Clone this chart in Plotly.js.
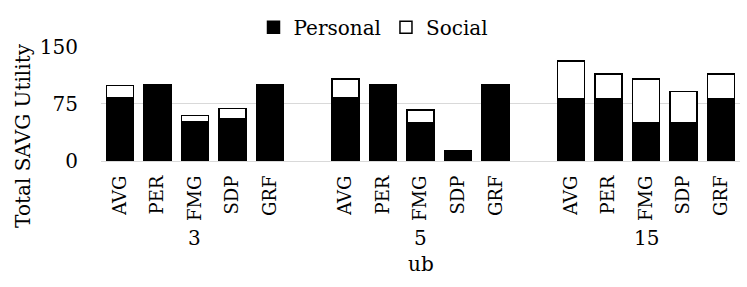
<!DOCTYPE html>
<html>
<head>
<meta charset="utf-8">
<script src="https://cdn.plot.ly/plotly-3.0.1.min.js"></script>
<style>html,body{margin:0;padding:0;background:#fff;}#chart{width:747px;height:287px;}</style>
</head>
<body>
<div id="chart"></div>
<script>
// ---- data ----
const groups = ["3", "5", "15"];
const methods = ["AVG", "PER", "FMG", "SDP", "GRF"];
const personal3 = [83, 100, 51, 55, 100];
const social3 = [16, 0, 9, 14, 0];
const personal5 = [83, 100, 50, 13, 100];
const social5 = [25, 0, 17, 0, 0];
const personal15 = [82, 82, 50, 50, 82];
const social15 = [49, 32, 58, 41, 32];
const yTicks = [0, 75, 150];

const personalByGroup = [personal3, personal5, personal15];
const socialByGroup = [social3, social5, social15];

const FONT = "'DejaVu Serif', serif";

// category keys
const xs = [], pers = [], soc = [], catOrder = [], tickVals = [], tickText = [];
groups.forEach((g, gi) => {
  if (gi > 0) catOrder.push("gap" + gi);
  methods.forEach((m, mi) => {
    const key = g + "|" + m;
    xs.push(key);
    pers.push(personalByGroup[gi][mi]);
    soc.push(socialByGroup[gi][mi]);
    catOrder.push(key);
    tickVals.push(key);
    tickText.push(m);
  });
});

const traces = [
  {type: "bar", name: "Personal", x: xs, y: pers,
   marker: {color: "#000000", line: {color: "#000000", width: 1.5}}},
  {type: "bar", name: "Social", x: xs, y: soc,
   marker: {color: "#ffffff", line: {color: "#000000", width: 1.5}}}
];

const annotations = groups.map(g => ({
  x: g + "|" + methods[2], xref: "x", y: -0.675, yref: "paper",
  text: g, showarrow: false, xanchor: "center", yanchor: "middle",
  font: {family: FONT, size: 20, color: "#000"}
}));
annotations.push({
  x: 0.5, xref: "paper", y: -0.9, yref: "paper", text: "ub", showarrow: false,
  xanchor: "center", yanchor: "middle", font: {family: FONT, size: 20, color: "#000"}
});
annotations.push({
  x: -0.122, xref: "paper", y: 0.22, yref: "paper", text: "Total SAVG Utility",
  textangle: -90, showarrow: false, xanchor: "center", yanchor: "middle",
  font: {family: FONT, size: 20, color: "#000"}
});

const layout = {
  width: 747, height: 287,
  font: {family: FONT, color: "#000"},
  margin: {l: 101, r: 7, t: 43, b: 126, pad: 0},
  paper_bgcolor: "#fff", plot_bgcolor: "#fff",
  barmode: "stack", bargap: 0.28,
  showlegend: true,
  legend: {orientation: "h", x: 0.5, xref: "container", xanchor: "center",
           y: 0.905, yref: "container", yanchor: "middle",
           font: {family: FONT, size: 20, color: "#000"}, traceorder: "normal"},
  xaxis: {type: "category", categoryorder: "array", categoryarray: catOrder,
          tickmode: "array", tickvals: tickVals, ticktext: tickText,
          tickangle: -90, showgrid: false, showline: false, zeroline: false,
          ticks: "", ticklabelstandoff: 10,
          tickfont: {family: FONT, size: 18, color: "#000"},
          range: [-0.5, catOrder.length - 0.5]},
  yaxis: {range: [0, 150], tickmode: "array", tickvals: yTicks,
          showgrid: true, gridcolor: "#d9d9d9", gridwidth: 1,
          zeroline: true, zerolinecolor: "#d9d9d9", zerolinewidth: 1,
          showline: false, ticks: "", ticklabelstandoff: 22,
          tickfont: {family: FONT, size: 20, color: "#000"}},
  annotations: annotations
};

Plotly.newPlot("chart", traces, layout, {displayModeBar: false, staticPlot: true});
</script>
</body>
</html>
